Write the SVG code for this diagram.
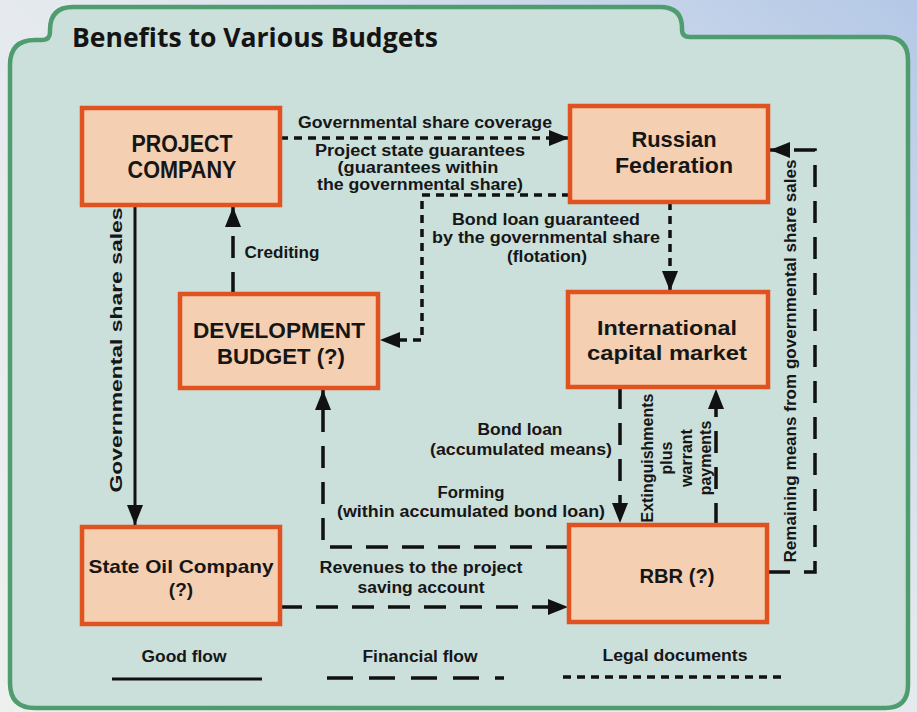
<svg xmlns="http://www.w3.org/2000/svg" width="917" height="712" viewBox="0 0 917 712">
  <defs>
    <linearGradient id="pageBg" x1="0" y1="1" x2="1" y2="0">
      <stop offset="0" stop-color="#eef0ee"/>
      <stop offset="0.55" stop-color="#e4e9ee"/>
      <stop offset="1" stop-color="#b4c8e6"/>
    </linearGradient>
    <marker id="arrow" viewBox="0 0 20 16" refX="20" refY="8" markerWidth="20" markerHeight="16" markerUnits="userSpaceOnUse" orient="auto">
      <path d="M0,0 L20,8 L0,16 Z" fill="#111"/>
    </marker>
    <style>
      .node rect { fill: #f4cfb1; stroke: #e0521f; stroke-width: 4.5; }
      .node text { font-family: "Liberation Sans", Arial, sans-serif; font-weight: bold; fill: #161616; text-anchor: middle; }
      .lbl { font-family: "Liberation Sans", Arial, sans-serif; font-weight: bold; font-size: 16px; fill: #161616; text-anchor: middle; }
      .good { fill: none; stroke: #111; stroke-width: 3; }
      .fin { fill: none; stroke: #111; stroke-width: 3.5; stroke-dasharray: 22 14; }
      .legal { fill: none; stroke: #111; stroke-width: 3.5; stroke-dasharray: 8 6; }
    </style>
  </defs>

  <!-- page and panel -->
  <rect x="0" y="0" width="917" height="712" fill="url(#pageBg)"/>
  <path id="panel" d="M10,65 Q10,40 35,40 L42,40 Q50,40 50,32 L50,30 Q50,7 73,7 L660,7 Q682,7 682,28 L682,30 Q682,37 690,37 L885,37 Q908,37 908,60 L908,685 Q908,708 885,708 L35,708 Q10,708 10,683 Z" fill="#cbdfdb" stroke="#4f9c6f" stroke-width="4.5"/>

  <text x="72" y="47" font-family="'Open Sans', 'Liberation Sans', sans-serif" font-weight="bold" font-size="27" fill="#141414" textLength="366" lengthAdjust="spacingAndGlyphs">Benefits to Various Budgets</text>

  <!-- connectors -->
  <g id="connectors">
    <path class="legal" d="M280,138 H569" marker-end="url(#arrow)"/>
    <path class="legal" d="M570,195 H422 V340 H380" marker-end="url(#arrow)"/>
    <path class="legal" d="M670,202 V291" marker-end="url(#arrow)"/>
    <path class="fin" d="M233,294 V207" marker-end="url(#arrow)"/>
    <path class="good" d="M135,205 V525" marker-end="url(#arrow)"/>
    <path class="fin" d="M280,607 H568" marker-end="url(#arrow)"/>
    <path class="fin" d="M568,547 H323 V390" marker-end="url(#arrow)"/>
    <path class="fin" d="M620,387 V523" marker-end="url(#arrow)"/>
    <path class="fin" d="M716,525 V389" marker-end="url(#arrow)"/>
    <path class="fin" d="M768,572 H815 V150 H770" marker-end="url(#arrow)"/>
  </g>

  <!-- connector labels -->
  <g id="labels">
    <text class="lbl" x="425" y="128" textLength="254" lengthAdjust="spacingAndGlyphs">Governmental share coverage</text>
    <text class="lbl" x="420" y="156" textLength="210" lengthAdjust="spacingAndGlyphs">Project state guarantees</text>
    <text class="lbl" x="418" y="173" textLength="161" lengthAdjust="spacingAndGlyphs">(guarantees within</text>
    <text class="lbl" x="420" y="190" textLength="206" lengthAdjust="spacingAndGlyphs">the governmental share)</text>
    <text class="lbl" x="546" y="225" textLength="188" lengthAdjust="spacingAndGlyphs">Bond loan guaranteed</text>
    <text class="lbl" x="546" y="243" textLength="228" lengthAdjust="spacingAndGlyphs">by the governmental share</text>
    <text class="lbl" x="547" y="262" textLength="80" lengthAdjust="spacingAndGlyphs">(flotation)</text>
    <text class="lbl" x="282" y="258" textLength="75" lengthAdjust="spacingAndGlyphs">Crediting</text>
    <text class="lbl" x="520" y="435" textLength="85" lengthAdjust="spacingAndGlyphs">Bond loan</text>
    <text class="lbl" x="521" y="455" textLength="182" lengthAdjust="spacingAndGlyphs">(accumulated means)</text>
    <text class="lbl" x="471" y="498" textLength="67" lengthAdjust="spacingAndGlyphs">Forming</text>
    <text class="lbl" x="471" y="517" textLength="268" lengthAdjust="spacingAndGlyphs">(within accumulated bond loan)</text>
    <text class="lbl" x="421" y="573" textLength="203" lengthAdjust="spacingAndGlyphs">Revenues to the project</text>
    <text class="lbl" x="421" y="593" textLength="127" lengthAdjust="spacingAndGlyphs">saving account</text>
    <text class="lbl" transform="translate(122,350) rotate(-90)" font-size="21" textLength="285" lengthAdjust="spacingAndGlyphs">Governmental share sales</text>
    <text class="lbl" transform="translate(796,361) rotate(-90)" font-size="17" textLength="403" lengthAdjust="spacingAndGlyphs">Remaining means from governmental share sales</text>
    <g transform="translate(0,458)">
      <text class="lbl" transform="translate(653,0) rotate(-90)">Extinguishments</text>
      <text class="lbl" transform="translate(672,0) rotate(-90)">plus</text>
      <text class="lbl" transform="translate(692,0) rotate(-90)">warrant</text>
      <text class="lbl" transform="translate(711,0) rotate(-90)">payments</text>
    </g>
  </g>

  <!-- nodes -->
  <g id="project-company" class="node">
    <rect x="82" y="108" width="198" height="97"/>
    <text x="182" y="152" font-size="23" textLength="101" lengthAdjust="spacingAndGlyphs">PROJECT</text>
    <text x="182" y="178" font-size="23" textLength="109" lengthAdjust="spacingAndGlyphs">COMPANY</text>
  </g>
  <g id="russian-federation" class="node">
    <rect x="570" y="106" width="198" height="96"/>
    <text x="674" y="147" font-size="22" textLength="85" lengthAdjust="spacingAndGlyphs">Russian</text>
    <text x="674" y="173" font-size="22" textLength="118" lengthAdjust="spacingAndGlyphs">Federation</text>
  </g>
  <g id="development-budget" class="node">
    <rect x="180" y="294" width="198" height="94"/>
    <text x="279" y="338" font-size="22" textLength="172" lengthAdjust="spacingAndGlyphs">DEVELOPMENT</text>
    <text x="281" y="364" font-size="22" textLength="128" lengthAdjust="spacingAndGlyphs">BUDGET (?)</text>
  </g>
  <g id="international-capital-market" class="node">
    <rect x="568" y="292" width="200" height="95"/>
    <text x="667" y="335" font-size="21" textLength="140" lengthAdjust="spacingAndGlyphs">International</text>
    <text x="667" y="360" font-size="21" textLength="160" lengthAdjust="spacingAndGlyphs">capital market</text>
  </g>
  <g id="state-oil-company" class="node">
    <rect x="82" y="527" width="198" height="97"/>
    <text x="181" y="573" font-size="19" textLength="185" lengthAdjust="spacingAndGlyphs">State Oil Company</text>
    <text x="181" y="596" font-size="19">(?)</text>
  </g>
  <g id="rbr" class="node">
    <rect x="569" y="525" width="198" height="97"/>
    <text x="677" y="583" font-size="20" textLength="75" lengthAdjust="spacingAndGlyphs">RBR (?)</text>
  </g>

  <!-- legend -->
  <g id="legend">
    <text class="lbl" x="184" y="662" font-size="18" textLength="85" lengthAdjust="spacingAndGlyphs">Good flow</text>
    <path class="good" d="M112,679 H262"/>
    <text class="lbl" x="420" y="662" font-size="18" textLength="115" lengthAdjust="spacingAndGlyphs">Financial flow</text>
    <path class="fin" d="M327,678 H504" style="stroke-dasharray: 26 16"/>
    <text class="lbl" x="675" y="661" font-size="18" textLength="145" lengthAdjust="spacingAndGlyphs">Legal documents</text>
    <path class="legal" d="M563,677 H787"/>
  </g>
</svg>
